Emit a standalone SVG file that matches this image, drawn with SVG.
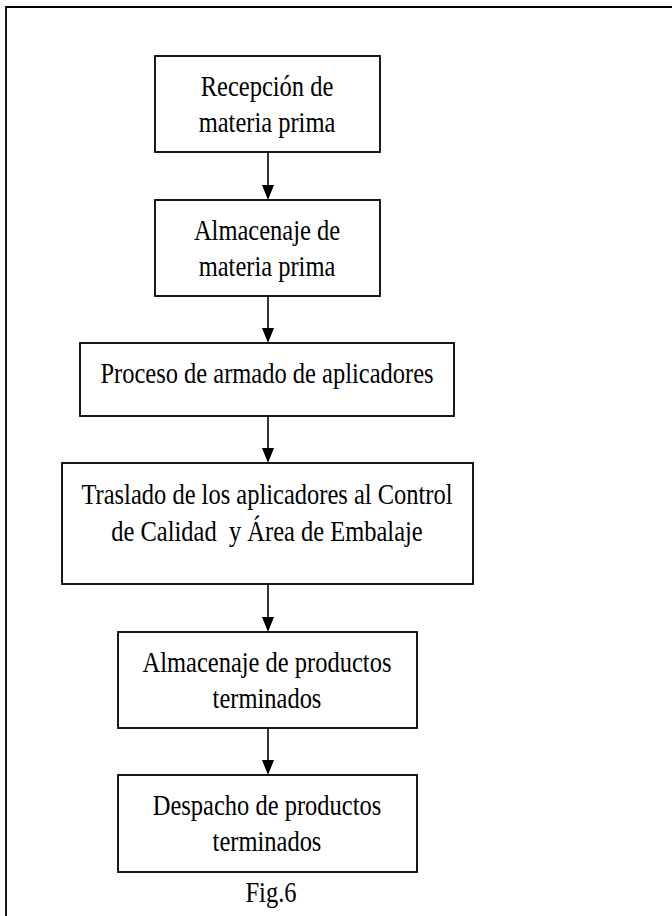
<svg xmlns="http://www.w3.org/2000/svg" width="672" height="916" viewBox="0 0 672 916">
<style>
.box{fill:#fff;stroke:#000;stroke-width:1.8}
.t{font-family:"Liberation Serif","Times New Roman",serif;font-size:24.5px;fill:#000;text-anchor:middle}
.c{stroke:#000;stroke-width:1.6;fill:none}
.h{fill:#000}
</style>
<rect width="672" height="916" fill="#fff"/>
<path d="M6,916 V7 H672" fill="none" stroke="#000" stroke-width="1.8"/>
<g id="connectors">
<path class="c" d="M268,152 V186"/><path class="h" d="M262,185 H274 L268,200 Z"/>
<path class="c" d="M268,296 V329"/><path class="h" d="M262,328 H274 L268,343 Z"/>
<path class="c" d="M268,416 V449"/><path class="h" d="M262,448 H274 L268,463 Z"/>
<path class="c" d="M268,584 V618"/><path class="h" d="M262,617 H274 L268,632 Z"/>
<path class="c" d="M268,728 V761"/><path class="h" d="M262,760 H274 L268,775 Z"/>
</g>
<g id="n1">
<rect class="box" x="155" y="56" width="225" height="96"/>
<text class="t" transform="translate(267,96) scale(1,1.2)">Recepción de</text>
<text class="t" transform="translate(267,132) scale(1,1.2)">materia prima</text>
</g>
<g id="n2">
<rect class="box" x="155" y="200" width="225" height="96"/>
<text class="t" transform="translate(267,240) scale(1,1.2)">Almacenaje de</text>
<text class="t" transform="translate(267,276) scale(1,1.2)">materia prima</text>
</g>
<g id="n3">
<rect class="box" x="80" y="343" width="374" height="73"/>
<text class="t" transform="translate(267,383) scale(1,1.2)">Proceso de armado de aplicadores</text>
</g>
<g id="n4">
<rect class="box" x="62" y="463" width="411" height="121"/>
<text class="t" transform="translate(267,504) scale(1,1.2)">Traslado de los aplicadores al Control</text>
<text class="t" transform="translate(267,541) scale(1,1.2)" xml:space="preserve">de Calidad  y Área de Embalaje</text>
</g>
<g id="n5">
<rect class="box" x="118" y="632" width="299" height="96"/>
<text class="t" transform="translate(267,672) scale(1,1.2)">Almacenaje de productos</text>
<text class="t" transform="translate(267,708) scale(1,1.2)">terminados</text>
</g>
<g id="n6">
<rect class="box" x="118" y="775" width="299" height="97"/>
<text class="t" transform="translate(267,815) scale(1,1.2)">Despacho de productos</text>
<text class="t" transform="translate(267,851) scale(1,1.2)">terminados</text>
</g>
<text class="t" transform="translate(271,902) scale(1,1.2)">Fig.6</text>
</svg>
